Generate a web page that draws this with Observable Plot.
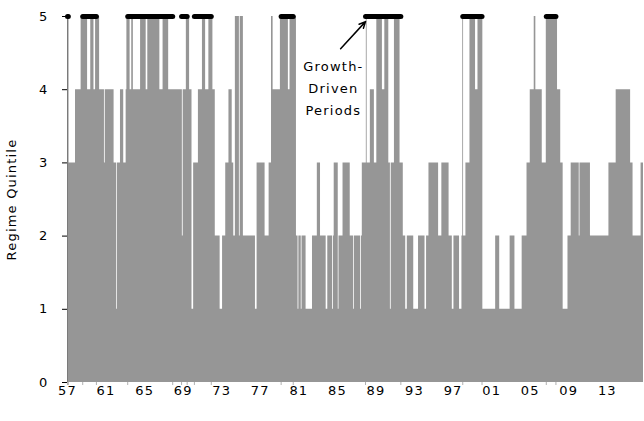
<!DOCTYPE html>
<html><head><meta charset="utf-8">
<script src="https://cdn.jsdelivr.net/npm/d3@7"></script>
<script src="https://cdn.jsdelivr.net/npm/@observablehq/plot@0.6"></script>
<style>
body{margin:0;background:#fff;}
#chart svg text{letter-spacing:1.2px;}
</style></head><body><div id="chart"></div>
<script>
// Monthly regime quintile, stored as runs: the month each value starts and the value held
const runStart = ["1957-01","1957-03","1957-11","1958-06","1959-02","1959-06","1959-10","1959-12","1960-05","1960-11",
"1960-12","1961-11","1962-02","1962-03","1962-07","1962-11","1963-02","1963-03","1963-07","1963-09",
"1963-11","1964-08","1965-03","1965-05","1966-08","1966-12","1967-07","1968-12","1969-01","1969-05",
"1969-09","1969-12","1970-02","1970-08","1971-01","1971-05","1971-09","1972-02","1972-05","1972-11",
"1973-02","1973-06","1973-10","1974-02","1974-04","1974-06","1974-11","1974-12","1975-04","1976-07",
"1976-09","1977-07","1977-12","1978-03","1978-05","1979-02","1979-12","1980-02","1980-10","1980-12",
"1981-01","1981-04","1981-05","1981-10","1982-06","1982-12","1983-04","1983-11","1984-01","1984-07",
"1984-08","1984-09","1985-02","1985-03","1985-08","1986-05","1986-09","1986-10","1987-06","1987-07",
"1987-08","1988-01","1988-02","1988-06","1988-11","1989-02","1989-09","1989-12","1990-05","1990-07",
"1990-08","1990-12","1991-07","1991-11","1992-02","1992-04","1992-12","1993-06","1994-02","1994-04",
"1994-07","1995-07","1995-11","1996-08","1996-12","1997-02","1997-09","1997-12","1998-01","1998-02",
"1998-05","1998-10","1999-05","1999-08","2000-02","2001-06","2001-11","2002-12","2003-06","2004-03",
"2004-09","2005-01","2005-06","2005-08","2006-04","2006-09","2007-11","2008-03","2008-06","2008-12",
"2009-04","2010-02","2010-03","2011-04","2013-03","2013-12","2015-06","2015-09","2016-07"];
const runValue = [5,3,4,5,4,5,4,5,4,3,
4,3,1,3,4,3,4,5,4,5,
4,5,4,5,4,5,4,2,4,5,
4,1,3,4,5,4,5,4,2,1,
2,3,4,3,2,5,2,5,2,1,
3,2,3,5,4,5,4,5,2,1,
2,1,2,1,2,3,2,1,2,1,
2,3,1,2,3,2,1,2,1,2,
3,5,3,4,3,5,4,5,3,1,
3,5,3,2,1,2,1,2,1,2,
3,2,3,2,1,2,1,2,5,2,
3,5,4,5,1,2,1,2,1,2,
3,4,5,4,3,5,4,3,1,2,
3,2,3,2,3,4,3,2,3];
const seriesEnd = "2016-10";

// Growth-driven periods (black markers at the top quintile)
const growthStart = ["1957-01","1958-08","1963-04","1968-11","1970-03","1979-03","1987-12","1998-01","2006-09"];
const growthEnd   = ["1957-02","1960-01","1967-12","1969-06","1971-12","1980-06","1991-08","2000-01","2007-09"];
const growthLevel = 5;

const yTicks = [0,1,2,3,4,5];
const xTickYears = ["1957","1961","1965","1969","1973","1977","1981","1985","1989","1993","1997","2001","2005","2009","2013"];

const annotationText = "Growth-\nDriven\nPeriods";
const annotationDate = "1984-08", annotationLevel = 4.05;
const arrowFromDate = "1985-05", arrowFromLevel = 4.56;
const arrowToDate = "1987-12", arrowToLevel = 4.93;

const pm = d3.utcParse("%Y-%m"), py = d3.utcParse("%Y");
const series = runStart.map((s, i) => ({date: pm(s), q: runValue[i]}));
series.push({date: pm(seriesEnd), q: runValue[runValue.length - 1]});
const growth = growthStart.map((s, i) => ({start: pm(s), end: pm(growthEnd[i])}));
const boundaries = growth.flatMap(g => [g.start, g.end]);

const chart = Plot.plot({
  width: 644, height: 421,
  marginLeft: 67, marginRight: 1, marginTop: 16, marginBottom: 39,
  x: {type: "utc", domain: [pm(runStart[0]), pm(seriesEnd)]},
  y: {domain: [0, 5]},
  style: {fontFamily: "'DejaVu Sans', sans-serif", fontSize: "13px", color: "#000", background: "#fff"},
  marks: [
    Plot.areaY(series, {x: "date", y: "q", curve: "step-after", fill: "#969696"}),
    Plot.ruleX([pm(runStart[0])], {stroke: "#7a7a7a"}),
    Plot.axisX({ticks: boundaries, tickSize: 3, tickFormat: () => "", stroke: "#b0b0b0", label: null}),
    Plot.axisX({ticks: xTickYears.map(py), tickSize: 0, tickPadding: 3, tickFormat: d3.utcFormat("%y"), fontSize: 13, label: null}),
    Plot.axisY({ticks: yTicks, tickSize: 5, tickPadding: 14, tickFormat: d3.format("d"), fontSize: 13, label: "Regime Quintile", labelAnchor: "center", labelOffset: 61, labelArrow: false}),
    Plot.link(growth, {x1: "start", x2: "end", y1: growthLevel, y2: growthLevel, stroke: "#000", strokeWidth: 5, strokeLinecap: "round"}),
    Plot.arrow([0], {x1: pm(arrowFromDate), y1: arrowFromLevel, x2: pm(arrowToDate), y2: arrowToLevel, stroke: "#000", strokeWidth: 1.5, headLength: 7, headAngle: 50}),
    Plot.text([annotationText], {x: pm(annotationDate), y: annotationLevel, text: d => d, fontSize: 13, lineHeight: 1.7, fill: "#000"})
  ]
});
document.getElementById("chart").appendChild(chart);
</script></body></html>
